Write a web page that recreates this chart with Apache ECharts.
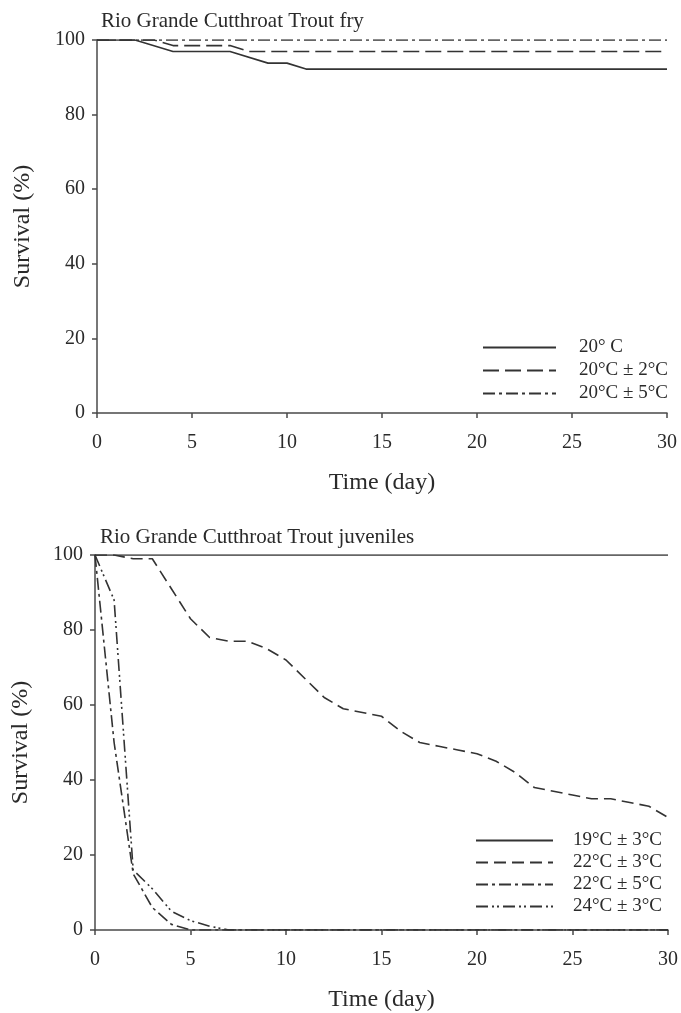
<!DOCTYPE html>
<html>
<head>
<meta charset="utf-8">
<script src="https://cdn.jsdelivr.net/npm/echarts@6/dist/echarts.min.js"></script>
<style>
  html, body { margin: 0; padding: 0; background: #fff; }
  #chart { width: 681px; height: 1013px; }
</style>
</head>
<body>
<div id="chart"></div>
<script>
// fry panel: [day, survival %] breakpoints
const fry20 = [[0, 100], [2, 100], [4, 96.9], [7, 96.9], [9, 93.8], [10, 93.8], [11, 92.2], [30, 92.2]];
const fry20p2 = [[0, 100], [3, 100], [4, 98.5], [7, 98.5], [8, 96.9], [30, 96.9]];
const fry20p5 = [[0, 100], [30, 100]];

// juvenile panel
const juvDays = [0, 1, 2, 3, 4, 5, 6, 7, 8, 9, 10, 11, 12, 13, 14, 15, 16, 17, 18, 19, 20, 21, 22, 23, 24, 25, 26, 27, 28, 29, 30];
const juv19p3 = [[0, 100], [30, 100]];
const juv22p3 = [100, 100, 99, 99, 91, 83, 78, 77, 77, 75, 72, 67, 62, 59, 58, 57, 53, 50, 49, 48, 47, 45, 42, 38, 37, 36, 35, 35, 34, 33, 30];
const juv22p5 = [[0, 100], [1, 50], [2, 15], [3, 6], [4, 1.5], [5, 0], [30, 0]];
const juv24p3 = [[0, 100], [1, 88], [2, 16], [3, 11], [4, 5], [5, 2.5], [6, 1], [7, 0], [30, 0]];

const xTicks = [0, 5, 10, 15, 20, 25, 30];
const yTicks = [0, 20, 40, 60, 80, 100];

const font = 'Liberation Serif';
const ink = '#2a2a2a';

const chart = echarts.init(document.getElementById('chart'));

const xAxisBase = (gridIndex) => ({
  type: 'value',
  gridIndex,
  min: xTicks[0],
  max: xTicks[xTicks.length - 1],
  interval: 5,
  name: 'Time (day)',
  nameLocation: 'middle',
  nameGap: 58,
  nameTextStyle: { fontFamily: font, fontSize: 24, color: ink },
  axisLine: { lineStyle: { color: '#4a4a4a', width: 1.5 } },
  axisTick: { show: true, length: 5, lineStyle: { color: '#4a4a4a', width: 1.5 } },
  axisLabel: { fontFamily: font, fontSize: 20, color: ink, margin: 20 },
  splitLine: { show: false }
});

const yAxisBase = (gridIndex) => ({
  type: 'value',
  gridIndex,
  min: yTicks[0],
  max: yTicks[yTicks.length - 1],
  interval: 20,
  name: 'Survival (%)',
  nameLocation: 'middle',
  nameGap: 62,
  nameTextStyle: { fontFamily: font, fontSize: 24, color: ink },
  axisLine: { show: true, lineStyle: { color: '#4a4a4a', width: 1.5 } },
  axisTick: { show: true, length: 5, lineStyle: { color: '#4a4a4a', width: 1.5 } },
  axisLabel: { fontFamily: font, fontSize: 20, color: ink, margin: 12 },
  splitLine: { show: false }
});

const lineSeries = (name, data, type, xi) => ({
  name,
  type: 'line',
  xAxisIndex: xi,
  yAxisIndex: xi,
  data,
  symbol: 'none',
  silent: true,
  color: '#333',
  lineStyle: { color: '#333', width: 1.6, type },
  z: 3
});

const dash = [16, 6];
const dashDot = [12, 4, 3, 4];
const dashDotDot = [12, 4, 2, 3, 2, 4];

const legendText = (pad) => ({ fontFamily: font, fontSize: 19, color: ink, lineHeight: 16, padding: [0, 0, 0, pad] });

chart.setOption({
  animation: false,
  backgroundColor: '#fff',
  title: [
    {
      text: 'Rio Grande Cutthroat Trout fry',
      left: 96, top: 6,
      textStyle: { fontFamily: font, fontSize: 21, fontWeight: 'normal', color: ink }
    },
    {
      text: 'Rio Grande Cutthroat Trout juveniles',
      left: 95, top: 522,
      textStyle: { fontFamily: font, fontSize: 21, fontWeight: 'normal', color: ink }
    }
  ],
  legend: [
    {
      data: ['20° C', '20°C ± 2°C', '20°C ± 5°C'],
      orient: 'vertical',
      left: 482, top: 338,
      padding: 0,
      itemWidth: 73, itemHeight: 14, itemGap: 4,
      itemStyle: { opacity: 0 },
      textStyle: legendText(18)
    },
    {
      data: ['19°C ± 3°C', '22°C ± 3°C', '22°C ± 5°C', '24°C ± 3°C'],
      orient: 'vertical',
      left: 475, top: 831,
      padding: 0,
      itemWidth: 77, itemHeight: 14, itemGap: 3,
      itemStyle: { opacity: 0 },
      textStyle: legendText(15)
    }
  ],
  grid: [
    { left: 97, right: 14, top: 40, height: 373 },
    { left: 95, right: 12, top: 555, height: 375 }
  ],
  xAxis: [xAxisBase(0), xAxisBase(1)],
  yAxis: [yAxisBase(0), yAxisBase(1)],
  series: [
    lineSeries('20° C', fry20, 'solid', 0),
    lineSeries('20°C ± 2°C', fry20p2, dash, 0),
    lineSeries('20°C ± 5°C', fry20p5, dashDot, 0),
    lineSeries('19°C ± 3°C', juv19p3, 'solid', 1),
    lineSeries('22°C ± 3°C', juvDays.map((d, i) => [d, juv22p3[i]]), [12, 6], 1),
    lineSeries('22°C ± 5°C', juv22p5, dashDot, 1),
    lineSeries('24°C ± 3°C', juv24p3, dashDotDot, 1)
  ]
});
</script>
</body>
</html>
